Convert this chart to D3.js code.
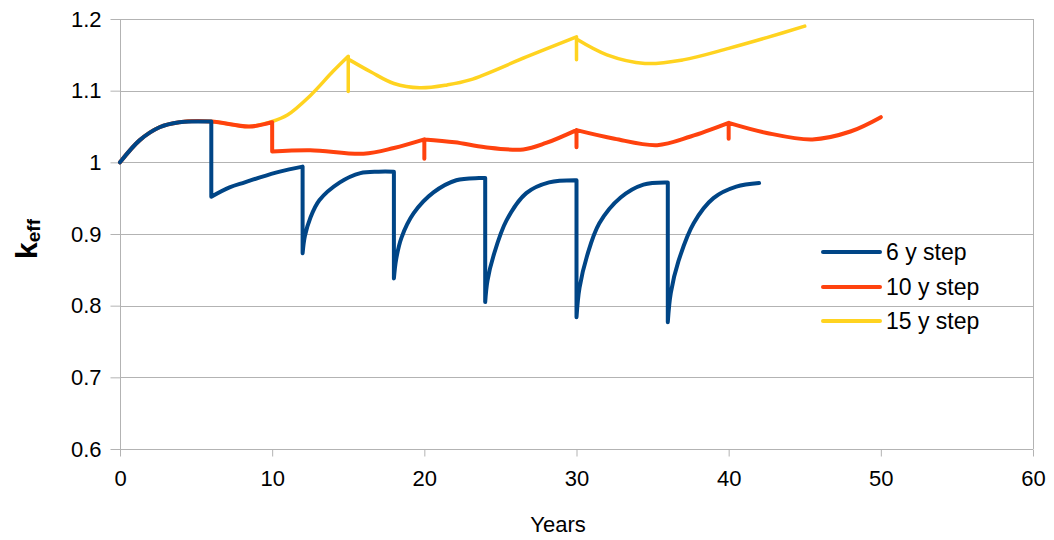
<!DOCTYPE html>
<html>
<head>
<meta charset="utf-8">
<script src="https://cdn.jsdelivr.net/npm/d3@7"></script>
<style>
  html, body { margin: 0; padding: 0; background: #ffffff; }
  svg text { font-family: "Liberation Sans", Arial, sans-serif; fill: #000; }
</style>
</head>
<body>
<svg id="chart" width="1054" height="540"></svg>
<script>
// ---- data (segments of [years, keff]; a segment joins the previous one with a straight step) ----
const seriesNames = ["6 y step", "10 y step", "15 y step"];
const seriesColors = ["#004586", "#ff420e", "#ffd320"];

const step6 = [
  [[0, 1.0], [1.3, 1.031], [2.6, 1.049], [3.9, 1.056], [5, 1.057], [6, 1.057]],
  [[6, 0.952], [7.2, 0.965], [8.2, 0.972], [9.2, 0.979], [10.5, 0.987], [12, 0.994]],
  [[12, 0.873], [12.15, 0.897], [12.5, 0.922], [13.1, 0.947], [14.45, 0.972], [15.8, 0.985], [17, 0.987], [18, 0.987]],
  [[18, 0.838], [18.15, 0.865], [18.5, 0.895], [19.3, 0.929], [20.6, 0.958], [22.1, 0.975], [23.6, 0.978], [24, 0.978]],
  [[24, 0.805], [24.15, 0.835], [24.55, 0.870], [25.4, 0.919], [26.7, 0.957], [28.2, 0.972], [30, 0.975]],
  [[30, 0.784], [30.2, 0.825], [30.7, 0.870], [31.5, 0.915], [32.9, 0.951], [34.4, 0.969], [36, 0.972]],
  [[36, 0.777], [36.2, 0.818], [36.7, 0.862], [37.7, 0.915], [39, 0.950], [40.5, 0.966], [42, 0.971]]
];

const step10 = [
  [[0, 1.0], [1.3, 1.031], [2.6, 1.049], [3.9, 1.056], [6, 1.057], [8.5, 1.050], [10, 1.056]],
  [[10, 1.015], [12.5, 1.017], [16, 1.012], [18, 1.020], [20, 1.032]],
  [[20, 1.005]],
  [[20, 1.032], [22, 1.028], [24, 1.021], [26.5, 1.018], [28, 1.027], [30, 1.045]],
  [[30, 1.021]],
  [[30, 1.045], [32.5, 1.033], [35.3, 1.024], [37.5, 1.036], [40, 1.055]],
  [[40, 1.033]],
  [[40, 1.055], [42.5, 1.041], [45.5, 1.032], [48, 1.043], [50, 1.063]]
];

const step15 = [
  [[0, 1.0], [1.3, 1.031], [2.6, 1.049], [3.9, 1.056], [6, 1.057], [8.5, 1.050], [10, 1.057],
   [11, 1.066], [12.5, 1.093], [14, 1.127], [15, 1.148]],
  [[15, 1.099]],
  [[15, 1.144], [16.5, 1.126], [18, 1.110], [19.7, 1.104], [21.5, 1.108], [23, 1.115], [26.7, 1.147], [30, 1.175]],
  [[30, 1.143]],
  [[30, 1.172], [32, 1.150], [34.5, 1.138], [37, 1.143], [40, 1.159], [42.5, 1.174], [45, 1.190]]
];

const xTicks = [0, 10, 20, 30, 40, 50, 60];
const yTicks = [0.6, 0.7, 0.8, 0.9, 1.0, 1.1, 1.2];
const yTickLabels = ["0.6", "0.7", "0.8", "0.9", "1", "1.1", "1.2"];
const xTitle = "Years";

// ---- layout ----
const svg = d3.select("#chart");
const plot = { left: 120, right: 1033, top: 19, bottom: 449 };
const x = d3.scaleLinear().domain([0, 60]).range([plot.left, plot.right]);
const y = d3.scaleLinear().domain([0.6, 1.2]).range([plot.bottom, plot.top]);
const gridColor = "#b3b3b3";

// grid lines
svg.append("g").selectAll("line").data(yTicks).join("line")
  .attr("x1", plot.left).attr("x2", plot.right)
  .attr("y1", d => Math.round(y(d)) + 0.5).attr("y2", d => Math.round(y(d)) + 0.5)
  .attr("stroke", gridColor).attr("stroke-width", 1);

// plot border (left / right)
svg.append("line").attr("x1", plot.left + 0.5).attr("x2", plot.left + 0.5)
  .attr("y1", plot.top).attr("y2", plot.bottom).attr("stroke", gridColor);
svg.append("line").attr("x1", plot.right + 0.5).attr("x2", plot.right + 0.5)
  .attr("y1", plot.top).attr("y2", plot.bottom).attr("stroke", gridColor);

// axes
const yAxis = d3.axisLeft(y).tickValues(yTicks).tickSize(10).tickPadding(9)
  .tickFormat((d, i) => yTickLabels[i]);
const gy = svg.append("g").attr("transform", `translate(${plot.left + 0.5},0)`).call(yAxis);
gy.select(".domain").remove();
gy.selectAll(".tick line").attr("stroke", gridColor);
gy.selectAll(".tick text").attr("font-size", 22).attr("font-family", "Liberation Sans, Arial, sans-serif").attr("fill", "#000");

const xAxis = d3.axisBottom(x).tickValues(xTicks).tickSize(7).tickPadding(14)
  .tickFormat(d3.format("d"));
const gx = svg.append("g").attr("transform", `translate(0,${Math.round(y(0.6)) + 0.5})`).call(xAxis);
gx.select(".domain").remove();
gx.selectAll(".tick line").attr("stroke", gridColor);
gx.selectAll(".tick text").attr("font-size", 22).attr("font-family", "Liberation Sans, Arial, sans-serif").attr("fill", "#000");

// axis titles
svg.append("text").attr("x", 558).attr("y", 532).attr("text-anchor", "middle")
  .attr("font-size", 22).text(xTitle);

const yt = svg.append("text").attr("transform", "translate(37,239) rotate(-90)")
  .attr("text-anchor", "middle").attr("font-weight", "bold");
yt.append("tspan").attr("font-size", 30).text("k");
yt.append("tspan").attr("font-size", 19).attr("dy", 3).text("eff");

// series
const line = d3.line().x(d => x(d[0])).y(d => y(d[1])).curve(d3.curveCatmullRom.alpha(0.5));
function segPath(segs) {
  return segs.map((s, i) => {
    let d = line(s).replace(/Z$/, "");
    if (i > 0) d = "L" + d.slice(1);
    return d;
  }).join("");
}
const allSeries = [step6, step10, step15];
const widths = [4, 4, 3.5];
// draw order: 15 y (bottom), 10 y, 6 y (top)
[2, 1, 0].forEach(i => {
  svg.append("path").attr("d", segPath(allSeries[i]))
    .attr("fill", "none").attr("stroke", seriesColors[i])
    .attr("stroke-width", widths[i]).attr("stroke-linejoin", "round").attr("stroke-linecap", "round");
});

// legend
const legendY = [252, 287, 321];
const lg = svg.append("g");
seriesNames.forEach((name, i) => {
  lg.append("line").attr("x1", 823).attr("x2", 880)
    .attr("y1", legendY[i]).attr("y2", legendY[i])
    .attr("stroke", seriesColors[i]).attr("stroke-width", 4).attr("stroke-linecap", "round");
  lg.append("text").attr("x", 886).attr("y", legendY[i]).attr("dy", "0.35em")
    .attr("font-size", 23).text(name);
});
</script>
</body>
</html>
